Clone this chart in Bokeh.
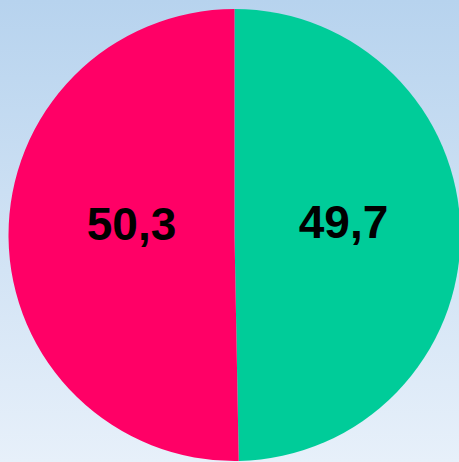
import math
from bokeh.plotting import figure
from bokeh.models import Range1d, ColumnDataSource, InlineStyleSheet
from bokeh.core.properties import value
from bokeh.embed import file_html
from bokeh.resources import INLINE

# ---- data ----
labels = ["49,7", "50,3"]
values = [49.7, 50.3]
colors = ["#00CC99", "#FF0066"]

# ---- layout constants (page pixels) ----
W, H = 459, 462
cx, cy_page = 234, 234.5
R = 226
cy = H - cy_page

total = sum(values)
starts, ends, lx, ly = [], [], [], []
acc = 0.0  # clockwise fraction from top
for v in values:
    a0 = math.pi / 2 - 2 * math.pi * acc
    acc += v / total
    a1 = math.pi / 2 - 2 * math.pi * acc
    starts.append(a1)
    ends.append(a0)
    mid = (a0 + a1) / 2
    lx.append(cx + 3 + 106 * math.cos(mid))
    ly.append(cy + 106 * math.sin(mid) + 12)

src = ColumnDataSource(dict(start=starts, end=ends, color=colors,
                            label=labels, lx=lx, ly=ly))

p = figure(width=W, height=H, output_backend="svg", toolbar_location=None,
           x_range=Range1d(0, W), y_range=Range1d(0, H), min_border=0)
p.axis.visible = False
p.grid.visible = False
p.outline_line_color = None
p.background_fill_alpha = 0
p.border_fill_alpha = 0
p.stylesheets = [InlineStyleSheet(css="""
:host { background: linear-gradient(to bottom, #b7d3ee, #e7f0fa); }
""")]

p.wedge(x=cx, y=cy, radius=R, start_angle="start", end_angle="end",
        fill_color="color", line_color=None, source=src)

p.text(x="lx", y="ly", text="label", source=src,
       text_font=value("Liberation Sans"), text_font_style="bold",
       text_font_size="46px", text_color="black",
       text_align="center", text_baseline="alphabetic")

open("out.html", "w").write(file_html(p, INLINE))
